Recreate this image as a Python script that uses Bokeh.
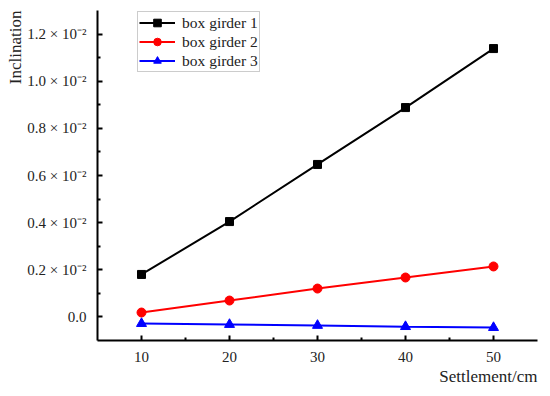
from bokeh.plotting import figure
from bokeh.models import Range1d, FixedTicker, Legend, Title
from bokeh.embed import file_html
from bokeh.resources import INLINE

# Data (inclination in units of 10^-2)
settlement = [10, 20, 30, 40, 50]
girder1 = [0.179, 0.404, 0.647, 0.889, 1.140]
girder2 = [0.017, 0.068, 0.119, 0.166, 0.213]
girder3 = [-0.030, -0.034, -0.038, -0.043, -0.047]

x_ticks = [10, 20, 30, 40, 50]
x_minor = [15, 25, 35, 45]
y_ticks = [0.0, 0.2, 0.4, 0.6, 0.8, 1.0, 1.2]
y_minor = [0.1, 0.3, 0.5, 0.7, 0.9, 1.1]
y_tick_labels = ["0.0", "0.2 × 10⁻²", "0.4 × 10⁻²", "0.6 × 10⁻²", "0.8 × 10⁻²", "1.0 × 10⁻²", "1.2 × 10⁻²"]

FONT = "Liberation Serif"
TXT = "#222222"

p = figure(width=542, height=389, output_backend="svg", toolbar_location=None,
           x_range=Range1d(5, 55), y_range=Range1d(-0.102, 1.302),
           min_border_left=97, min_border_top=10, min_border_right=5, min_border_bottom=49)
p.outline_line_color = None
p.xgrid.visible = False
p.ygrid.visible = False

for ax in (p.xaxis[0], p.yaxis[0]):
    ax.axis_line_width = 2
    ax.axis_line_color = "black"
    ax.major_tick_in = 5
    ax.major_tick_out = 0
    ax.minor_tick_in = 3
    ax.minor_tick_out = 0
    ax.major_tick_line_width = 2
    ax.minor_tick_line_width = 2
    ax.major_label_text_font = FONT
    ax.major_label_text_font_size = "15px"
    ax.major_label_text_color = TXT
    ax.axis_label_standoff = 0

p.xaxis[0].ticker = FixedTicker(ticks=x_ticks, minor_ticks=x_minor)
p.yaxis[0].ticker = FixedTicker(ticks=y_ticks, minor_ticks=y_minor)
p.yaxis[0].major_label_overrides = {t: l for t, l in zip(y_ticks, y_tick_labels)}
p.xaxis[0].major_label_standoff = 11
p.yaxis[0].major_label_standoff = 11

series = [
    (girder1, "black", "square", 8, "box girder 1"),
    (girder2, "red", "circle", 9, "box girder 2"),
    (girder3, "blue", "triangle", 10, "box girder 3"),
]
items = []
for ys, color, marker, size, name in series:
    r1 = p.line(settlement, ys, line_color=color, line_width=2)
    r2 = p.scatter(settlement, ys, marker=marker, size=size,
                   fill_color=color, line_color=color)
    items.append((name, [r1, r2]))

legend = Legend(items=items, location=(40, 268), orientation="vertical")
legend.label_text_font = FONT
legend.label_text_font_size = "15.5px"
legend.label_text_color = TXT
legend.border_line_color = "#999999"
legend.border_line_width = 1
legend.padding = 1
legend.margin = 0
legend.spacing = 0
legend.glyph_width = 36
legend.glyph_height = 19
legend.label_height = 19
legend.label_standoff = 7
p.add_layout(legend)

p.add_layout(Title(text="Inclination", align="right", text_font=FONT, standoff=0,
                   text_font_size="17px", text_font_style="normal", text_color=TXT), "left")
p.add_layout(Title(text="Settlement/cm", align="right", text_font=FONT, standoff=0,
                   text_font_size="17px", text_font_style="normal", text_color=TXT), "below")

open("out.html", "w").write(file_html(p, INLINE))
